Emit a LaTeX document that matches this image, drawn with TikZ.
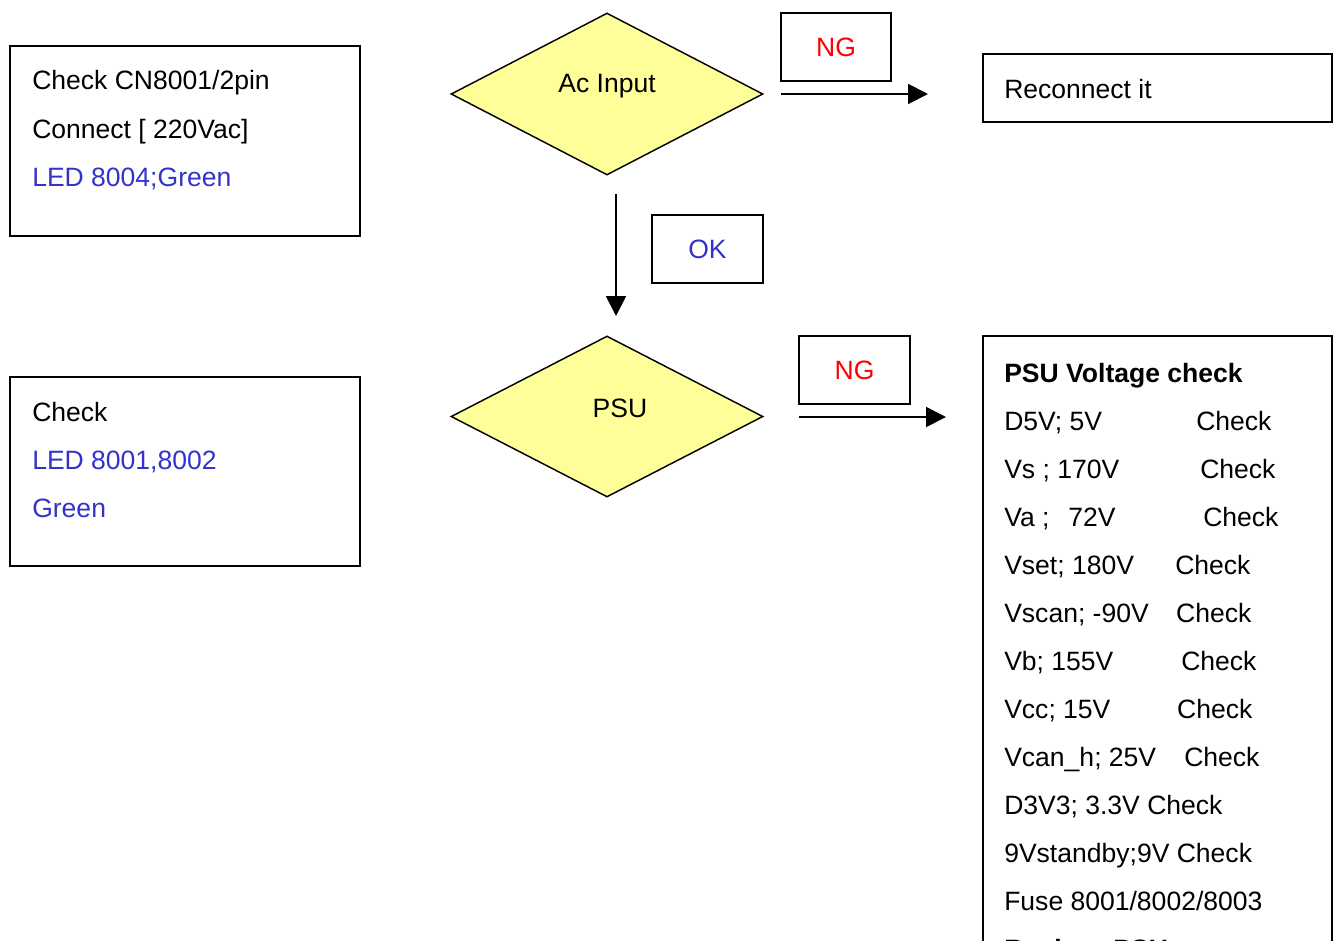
\documentclass[tikz,border=0pt]{standalone}
\usepackage{fontspec}
\setmainfont{Liberation Sans}
\usetikzlibrary{shapes.geometric,arrows.meta}
\definecolor{txtblue}{RGB}{51,51,204}
\definecolor{txtred}{RGB}{255,0,0}
\definecolor{diafill}{RGB}{255,255,153}
\begin{document}
\begin{tikzpicture}[x=0.75pt,y=-0.75pt,
  every node/.style={font=\fontsize{19.9}{24}\selectfont},
  box/.style={draw, line width=1.5pt, inner sep=0pt, fill=white},
  dia/.style={diamond, draw, line width=1.1pt, fill=diafill, inner sep=0pt},
  txt/.style={anchor=base west, inner sep=0pt},
  ctxt/.style={anchor=base, inner sep=0pt},
  arr/.style={line width=1.4pt, -{Triangle[length=15pt,width=15pt]}}]
\useasboundingbox (0,0) rectangle (1339,940);
\clip (0,0) rectangle (1339,940);
\fill[white] (0,0) rectangle (1339,940);

% boxes
\node[box, minimum width={350*0.75pt}, minimum height={190*0.75pt}] (box1) at (185,141) {};
\node[box, minimum width={349*0.75pt}, minimum height={68*0.75pt}] (recon) at (1157.5,88) {};
\node[box, minimum width={110*0.75pt}, minimum height={68*0.75pt}, text=txtred] (ng1) at (836,47) {NG};
\node[box, minimum width={111*0.75pt}, minimum height={68*0.75pt}, text=txtblue] (ok) at (707.5,249) {OK};
\node[box, minimum width={350*0.75pt}, minimum height={189*0.75pt}] (box2) at (185,471.5) {};
\node[box, minimum width={111*0.75pt}, minimum height={68*0.75pt}, text=txtred] (ng2) at (854.5,370) {NG};
\node[box, minimum width={349*0.75pt}, minimum height={634*0.75pt}] (big) at (1157.5,653) {};

% diamonds
\node[dia, minimum width={312*0.75pt}, minimum height={162*0.75pt}] (d1) at (607,94) {};
\node[dia, minimum width={312*0.75pt}, minimum height={161*0.75pt}] (d2) at (607,416.5) {};
\node[ctxt] (d1t) at (607,92) {Ac Input};
\node[ctxt] (d2t) at (620,417) {PSU};

% box texts
\node[txt] (b1a) at (32,89) {Check CN8001/2pin};
\node[txt] (b1b) at (32,138) {Connect [ 220Vac]};
\node[txt, text=txtblue] (b1c) at (32,186) {LED 8004;Green};

\node[txt] (rt) at (1004,98) {Reconnect it};

\node[txt] (b2a) at (32,421) {Check};
\node[txt, text=txtblue] (b2b) at (32,469) {LED 8001,8002};
\node[txt, text=txtblue] (b2c) at (32,517) {Green};

\node[txt] (p0) at (1004,382) {\bfseries PSU Voltage check};
\node[txt] (p1) at (1004,430) {\makebox[144pt][l]{D5V; 5V}Check};
\node[txt] (p2) at (1004,478) {\makebox[147pt][l]{Vs ; 170V}Check};
\node[txt] (p3) at (1004,526) {\makebox[48pt][l]{Va ;}\makebox[101.25pt][l]{72V}Check};
\node[txt] (p4) at (1004,574) {\makebox[128.25pt][l]{Vset; 180V}Check};
\node[txt] (p5) at (1004,622) {\makebox[129pt][l]{Vscan; -90V}Check};
\node[txt] (p6) at (1004,670) {\makebox[132.75pt][l]{Vb; 155V}Check};
\node[txt] (p7) at (1004,718) {\makebox[129.75pt][l]{Vcc; 15V}Check};
\node[txt] (p8) at (1004,766) {\makebox[135pt][l]{Vcan\_h; 25V}Check};
\node[txt] (p9) at (1004,814) {D3V3; 3.3V Check};
\node[txt] (p10) at (1004,862) {9Vstandby;9V Check};
\node[txt] (p11) at (1004,910) {Fuse 8001/8002/8003};
\node[txt] (p12) at (1004,958) {\bfseries Replace PSU};

% connectors
\coordinate (a1s) at (781,94);
\coordinate (a1e) at (928,94);
\coordinate (a2s) at (616,194);
\coordinate (a2e) at (616,316);
\coordinate (a3s) at (799,417);
\coordinate (a3e) at (946,417);
\draw[arr] (a1s) -- (a1e);
\draw[arr] (a2s) -- (a2e);
\draw[arr] (a3s) -- (a3e);
\end{tikzpicture}
\end{document}
